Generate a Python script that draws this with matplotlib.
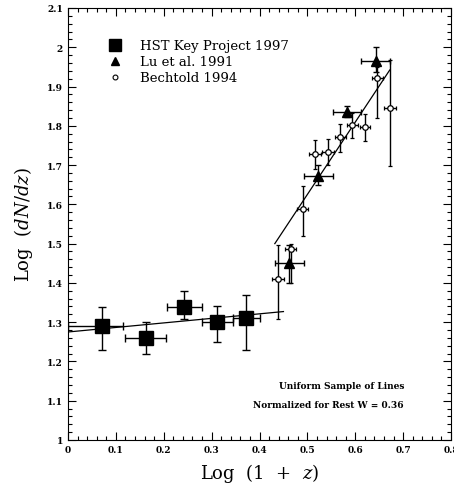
import matplotlib
matplotlib.use("Agg")
import matplotlib.pyplot as plt
import numpy as np
from matplotlib.ticker import MultipleLocator

plt.rcParams['font.family'] = ['DejaVu Serif']
plt.rcParams['mathtext.fontset'] = 'dejavuserif'

# HST Key Project 1997
hst_x = [0.07, 0.162, 0.243, 0.312, 0.372]
hst_y = [1.289, 1.259, 1.339, 1.30, 1.31]
hst_xlo = [0.07, 0.043, 0.037, 0.033, 0.028]
hst_xhi = [0.045, 0.043, 0.037, 0.033, 0.028]
hst_ylo = [1.289 - 1.23, 1.259 - 1.218, 1.339 - 1.309, 1.30 - 1.25, 1.31 - 1.23]
hst_yhi = [1.338 - 1.289, 1.30 - 1.259, 1.38 - 1.339, 1.34 - 1.30, 1.37 - 1.31]

# Lu et al. 1991
lu_x = [0.462, 0.523, 0.583, 0.643]
lu_y = [1.451, 1.672, 1.836, 1.965]
lu_xerr = [0.03, 0.031, 0.03, 0.03]
lu_ylo = [0.051, 0.022, 0.013, 0.027]
lu_yhi = [0.045, 0.028, 0.015, 0.035]

# Bechtold 1994
be_x = [0.439, 0.465, 0.490, 0.516, 0.543, 0.569, 0.594, 0.620, 0.646, 0.673]
be_y = [1.411, 1.487, 1.587, 1.727, 1.733, 1.772, 1.802, 1.797, 1.921, 1.845]
be_xerr = [0.013, 0.012, 0.012, 0.012, 0.012, 0.012, 0.012, 0.010, 0.012, 0.013]
be_ylo = [0.104, 0.087, 0.068, 0.037, 0.033, 0.038, 0.034, 0.036, 0.101, 0.147]
be_yhi = [0.085, 0.013, 0.059, 0.037, 0.033, 0.032, 0.030, 0.032, 0.029, 0.123]

# Fitted lines
low_fit_x = [0.0, 0.45]
low_fit_y = [1.275, 1.327]
high_fit_x = [0.432, 0.672]
high_fit_y = [1.50, 1.942]

fig = plt.figure(figsize=(4.54, 4.89), dpi=100)
ax = fig.add_axes([0.1498, 0.0982, 0.8436, 0.8834])

ax.plot(low_fit_x, low_fit_y, color='black', lw=0.9)
ax.plot(high_fit_x, high_fit_y, color='black', lw=0.9)

ax.errorbar(hst_x, hst_y, xerr=[hst_xlo, hst_xhi], yerr=[hst_ylo, hst_yhi],
            fmt='s', color='black', ms=10, ecolor='black', elinewidth=1,
            capsize=3, capthick=1)
ax.errorbar(lu_x, lu_y, xerr=lu_xerr, yerr=[lu_ylo, lu_yhi],
            fmt='^', color='black', ms=7, ecolor='black', elinewidth=1,
            capsize=2.5, capthick=1)
ax.errorbar(be_x, be_y, xerr=be_xerr, yerr=[be_ylo, be_yhi],
            fmt='o', color='black', mfc='white', ms=4, mew=0.9, ecolor='black',
            elinewidth=1, capsize=1.5, capthick=1)

ax.set_xlim(0, 0.8)
ax.set_ylim(1.0, 2.1)
ax.xaxis.set_minor_locator(MultipleLocator(0.02))
ax.yaxis.set_minor_locator(MultipleLocator(0.02))
ax.tick_params(which='both', direction='in', top=True, right=True,
               labelsize=6.5)
ax.tick_params(which='major', length=6, width=0.8)
ax.tick_params(which='minor', length=3, width=0.8)

xt = [0, 0.1, 0.2, 0.3, 0.4, 0.5, 0.6, 0.7, 0.8]
ax.set_xticks(xt)
ax.set_xticklabels(['0', '0.1', '0.2', '0.3', '0.4', '0.5', '0.6', '0.7', '0.8'],
                   fontweight='bold')
yt = [1.0, 1.1, 1.2, 1.3, 1.4, 1.5, 1.6, 1.7, 1.8, 1.9, 2.0, 2.1]
ax.set_yticks(yt)
ax.set_yticklabels(['1', '1.1', '1.2', '1.3', '1.4', '1.5', '1.6', '1.7', '1.8',
                    '1.9', '2', '2.1'], fontweight='bold')
for s in ax.spines.values():
    s.set_linewidth(0.8)

ax.set_xlabel(r'Log  (1  +  $z$)', fontsize=13, labelpad=5)
ax.set_ylabel(r'Log  ($dN/dz$)', fontsize=13, labelpad=9)

# Legend drawn manually
leg_labels = ['HST Key Project 1997', 'Lu et al. 1991', 'Bechtold 1994']
ax.plot([0.123], [0.914], 's', color='black', ms=9, transform=ax.transAxes)
ax.plot([0.123], [0.877], '^', color='black', ms=6, transform=ax.transAxes)
ax.plot([0.123], [0.840], 'o', color='black', mfc='white', ms=3.5, mew=0.8,
        transform=ax.transAxes)
for yy, t in zip([0.914, 0.877, 0.840], leg_labels):
    ax.text(0.188, yy, t, transform=ax.transAxes, fontsize=9.5, va='center', ha='left')

ax.text(0.877, 0.127, 'Uniform Sample of Lines', transform=ax.transAxes,
        fontsize=6.5, fontweight='bold', ha='right', va='center')
ax.text(0.877, 0.083, 'Normalized for Rest W = 0.36', transform=ax.transAxes,
        fontsize=6.5, fontweight='bold', ha='right', va='center')

fig.savefig('out.png', dpi=100)
